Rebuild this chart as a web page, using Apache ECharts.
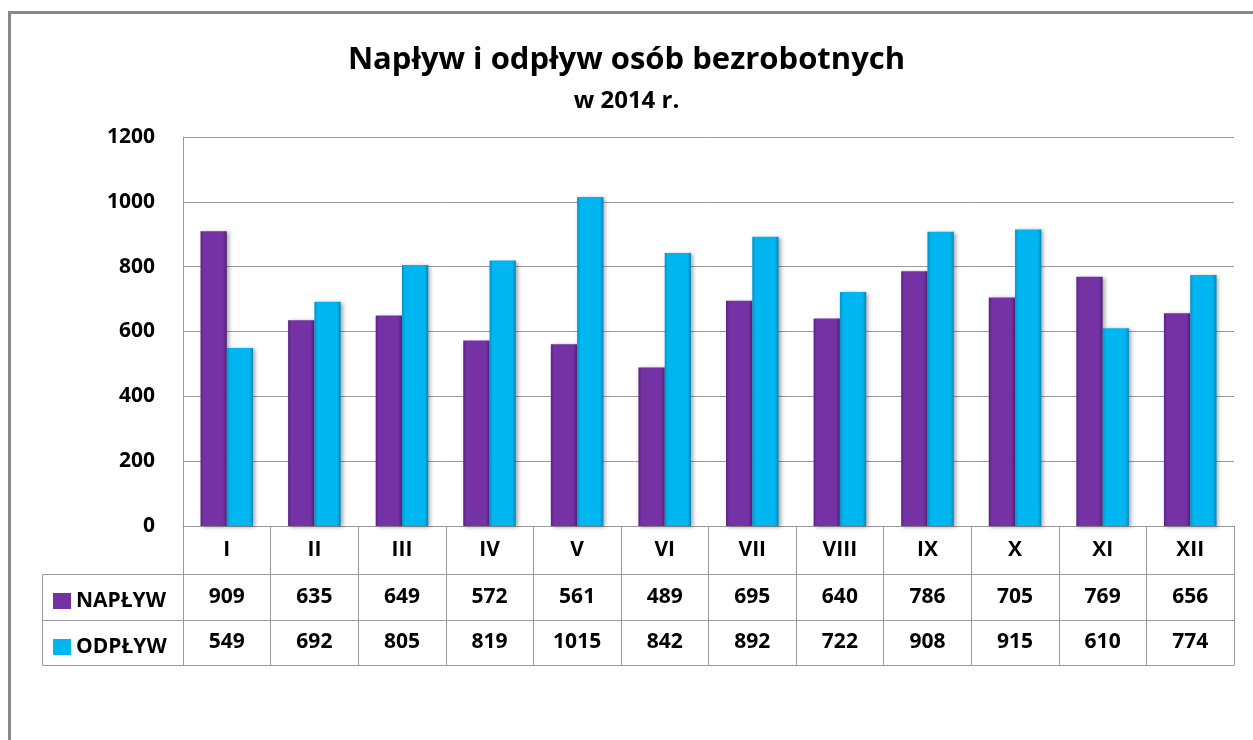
<!DOCTYPE html>
<html><head><meta charset="utf-8">
<script src="https://cdn.jsdelivr.net/npm/echarts@6/dist/echarts.min.js"></script>
<style>html,body{margin:0;padding:0;background:#fff}#c{width:1253px;height:740px}</style>
</head><body><div id="c"></div>
<script>
const months = ['I','II','III','IV','V','VI','VII','VIII','IX','X','XI','XII'];
const naplyw = [909,635,649,572,561,489,695,640,786,705,769,656];
const odplyw = [549,692,805,819,1015,842,892,722,908,915,610,774];
const seriesNames = ['NAPŁYW','ODPŁYW'];
const yTicks = {min:0, max:1200, interval:200};

const FONT = 'Open Sans';
const gridColor = '#9a9a9a';
const purpleGrad = new echarts.graphic.LinearGradient(0,0,1,0,[
  {offset:0,color:'#5b2185'},{offset:0.12,color:'#7432a4'},{offset:0.85,color:'#7432a4'},{offset:1,color:'#52207a'}]);
const cyanGrad = new echarts.graphic.LinearGradient(0,0,1,0,[
  {offset:0,color:'#0092c8'},{offset:0.12,color:'#00b6f0'},{offset:0.85,color:'#00b6f0'},{offset:1,color:'#0089bb'}]);

const chart = echarts.init(document.getElementById('c'));
const labelStyle = {fontFamily:FONT, fontWeight:'bold', fontSize:21, color:'#000'};
chart.setOption({
  animation:false,
  title:[
    {text:'Napływ i odpływ osób bezrobotnych', left:'center', top:40,
     textStyle:{fontFamily:FONT, fontWeight:'bold', fontSize:31, color:'#000'}},
    {text:'w 2014 r.', left:'center', top:84,
     textStyle:{fontFamily:FONT, fontWeight:'bold', fontSize:24, color:'#000'}}
  ],
  legend:{
    orient:'vertical', left:48, top:585, itemWidth:18, itemHeight:16, itemGap:24,
    textStyle:Object.assign({lineHeight:22}, labelStyle),
    data:[{name:seriesNames[0], icon:'rect', itemStyle:{color:'#7432a4'}},
          {name:seriesNames[1], icon:'rect', itemStyle:{color:'#00b6f0'}}]
  },
  grid:{left:183, right:19, top:137, bottom:214, containLabel:false},
  yAxis:{type:'value', min:yTicks.min, max:yTicks.max, interval:yTicks.interval,
    axisLine:{show:true, lineStyle:{color:gridColor}}, axisTick:{show:false},
    splitLine:{lineStyle:{color:gridColor, width:1}},
    axisLabel:Object.assign({margin:28, formatter:v => String(v)}, labelStyle)},
  xAxis:[
    {type:'category', data:months, position:'bottom',
     axisLine:{lineStyle:{color:gridColor}},
     axisTick:{show:true, length:139, interval:0, lineStyle:{color:gridColor}},
     axisLabel:Object.assign({margin:24, verticalAlign:'middle', interval:0}, labelStyle)},
    {type:'category', data:naplyw.map(String), position:'bottom', offset:48,
     axisLine:{lineStyle:{color:gridColor}}, axisTick:{show:false},
     axisLabel:Object.assign({margin:23, verticalAlign:'middle', interval:0}, labelStyle)},
    {type:'category', data:odplyw.map(String), position:'bottom', offset:94,
     axisLine:{lineStyle:{color:gridColor}}, axisTick:{show:false},
     axisLabel:Object.assign({margin:22, verticalAlign:'middle', interval:0}, labelStyle)},
    {type:'category', data:months, position:'bottom', offset:139,
     axisLine:{lineStyle:{color:gridColor}}, axisTick:{show:false}, axisLabel:{show:false}}
  ],
  series:[
    {name:seriesNames[0], type:'bar', data:naplyw, xAxisIndex:0, barGap:'0%', barCategoryGap:'40%',
     itemStyle:{color:purpleGrad, shadowBlur:4, shadowColor:'rgba(0,0,0,0.35)', shadowOffsetX:2, shadowOffsetY:1}},
    {name:seriesNames[1], type:'bar', data:odplyw, xAxisIndex:0, barGap:'0%', barCategoryGap:'40%',
     itemStyle:{color:cyanGrad, shadowBlur:4, shadowColor:'rgba(0,0,0,0.35)', shadowOffsetX:2, shadowOffsetY:1}}
  ],
  graphic:[
    {type:'rect', shape:{x:9.5, y:12.5, width:1400, height:900}, style:{fill:null, stroke:'#888', lineWidth:3}, silent:true},
    {type:'polyline', shape:{points:[[183,574.5],[42.5,574.5],[42.5,665.5],[183,665.5]]}, style:{fill:null, stroke:gridColor, lineWidth:1}, silent:true},
    {type:'line', shape:{x1:42.5, y1:620.5, x2:183, y2:620.5}, style:{stroke:gridColor, lineWidth:1}, silent:true}
  ]
});
</script></body></html>
